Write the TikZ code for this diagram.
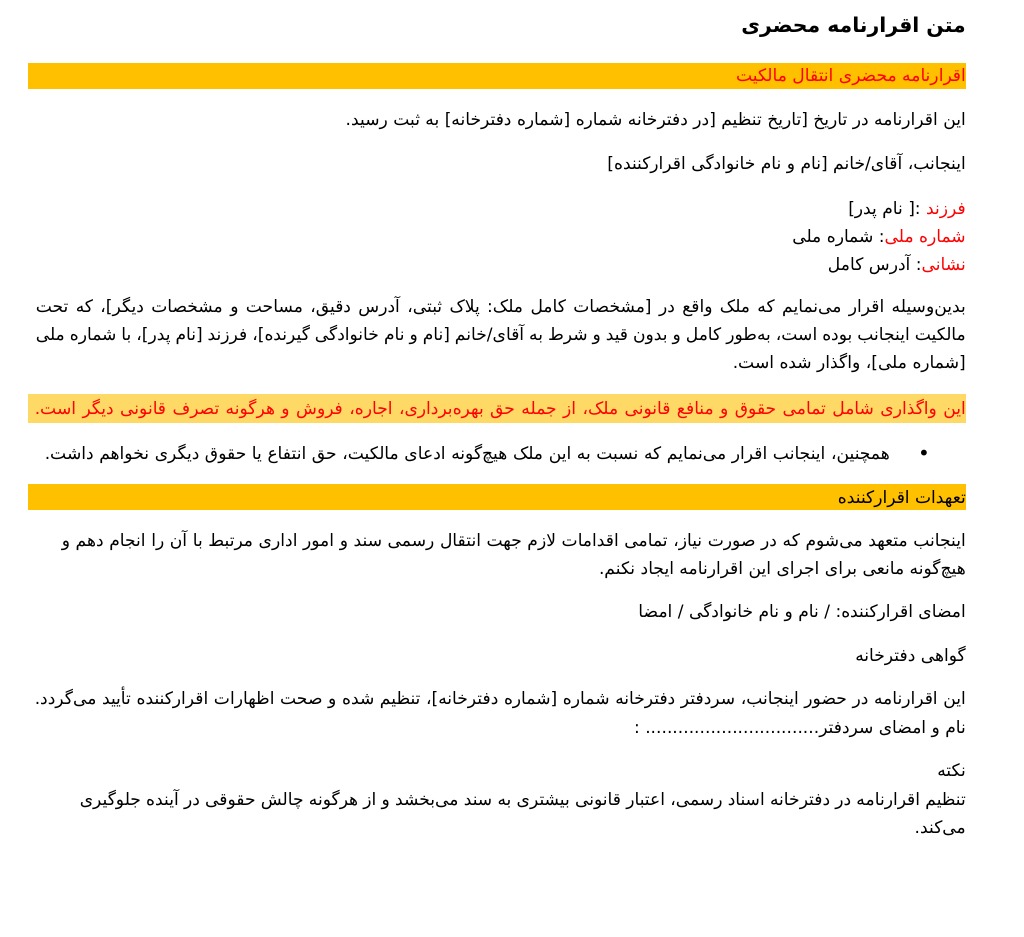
\documentclass[tikz,border=0pt]{standalone}
\usepackage{fontspec}
\TeXXeTstate=1
\frenchspacing
\newfontfamily\fa[Script=Arabic]{DejaVu Sans}
\definecolor{gold}{HTML}{FFC000}
\definecolor{lightgold}{HTML}{FFD966}
\definecolor{redtxt}{HTML}{FF0000}
\newcommand\RL[1]{\beginR #1\endR}
\tikzset{
  txt/.style={anchor=base east, inner sep=0pt, font=\fa\fontsize{17.1}{20}\selectfont\frenchspacing},
  ttl/.style={anchor=base east, inner sep=0pt, font=\fa\bfseries\fontsize{20.4}{24}\selectfont},
  banner/.style={anchor=north west, inner sep=0pt, minimum width=938pt, minimum height=26pt, fill=gold},
  hlbanner/.style={anchor=north west, inner sep=0pt, minimum width=938pt, minimum height=29pt, fill=lightgold},
}
\begin{document}
\begin{tikzpicture}[x=1pt,y=-1pt]
\useasboundingbox (0,0) rectangle (1024,936);
\fill[white] (0,0) rectangle (1024,936);
% title
\node[ttl] (title) at (966,33) {\RL{متن اقرارنامه محضری}};
% banner 1
\node[banner] (b1) at (28,63) {};
\node[txt, text=redtxt] (b1t) at (966,82) {\RL{اقرارنامه محضری انتقال مالکیت}};
\node[txt] (l1) at (966,126) {\RL{این اقرارنامه در تاریخ [تاریخ تنظیم [در دفترخانه شماره [شماره دفترخانه] به ثبت رسید.}};
\node[txt] (l2) at (966,169) {\RL{اینجانب، آقای/خانم [نام و نام خانوادگی اقرارکننده]}};
\node[txt] (l3) at (966,214) {\RL{:[ نام پدر]} \textcolor{redtxt}{\RL{فرزند}}};
\node[txt] (l4) at (966,242) {\RL{: شماره ملی}\textcolor{redtxt}{\RL{شماره ملی}}};
\node[txt] (l5) at (966,270) {\RL{: آدرس کامل}\textcolor{redtxt}{\RL{نشانی}}};
% paragraph 1
\node[txt] (p1a) at (966,312) {\makebox[930pt][s]{\RL{بدین^^^^200cوسیله اقرار می^^^^200cنمایم که ملک واقع در [مشخصات کامل ملک: پلاک ثبتی، آدرس دقیق، مساحت و مشخصات دیگر]، که تحت}}};
\node[txt] (p1b) at (966,340) {\makebox[930pt][s]{\RL{مالکیت اینجانب بوده است، به^^^^200cطور کامل و بدون قید و شرط به آقای/خانم [نام و نام خانوادگی گیرنده]، فرزند [نام پدر]، با شماره ملی}}};
\node[txt] (p1c) at (966,368) {\RL{[شماره ملی]، واگذار شده است.}};
% highlight
\node[hlbanner] (b2) at (28,394) {};
\node[txt, text=redtxt] (b2t) at (966,414) {\makebox[931pt][s]{\RL{این واگذاری شامل تمامی حقوق و منافع قانونی ملک، از جمله حق بهره^^^^200cبرداری، اجاره، فروش و هرگونه تصرف قانونی دیگر است.}}};
% bullet
\node[anchor=base, inner sep=0pt, font=\fa\fontsize{20}{22}\selectfont] (bul) at (924,460) {•};
\node[txt] (bult) at (890,459) {\makebox[845pt][s]{\RL{همچنین، اینجانب اقرار می^^^^200cنمایم که نسبت به این ملک هیچ^^^^200cگونه ادعای مالکیت، حق انتفاع یا حقوق دیگری نخواهم داشت.}}};
% banner 3
\node[banner] (b3) at (28,484) {};
\node[txt] (b3t) at (966,503) {\RL{تعهدات اقرارکننده}};
\node[txt] (p2a) at (966,546) {\makebox[904pt][s]{\RL{اینجانب متعهد می^^^^200cشوم که در صورت نیاز، تمامی اقدامات لازم جهت انتقال رسمی سند و امور اداری مرتبط با آن را انجام دهم و}}};
\node[txt] (p2b) at (966,574) {\RL{هیچ^^^^200cگونه مانعی برای اجرای این اقرارنامه ایجاد نکنم.}};
\node[txt] (sig) at (966,617) {\RL{امضای اقرارکننده: / نام و نام خانوادگی / امضا}};
\node[txt] (g) at (966,661) {\RL{گواهی دفترخانه}};
\node[txt] (g1) at (966,704) {\makebox[931pt][s]{\RL{این اقرارنامه در حضور اینجانب، سردفتر دفترخانه شماره [شماره دفترخانه]، تنظیم شده و صحت اظهارات اقرارکننده تأیید می^^^^200cگردد.}}};
\node[txt] (g2) at (966,733) {\RL{نام و امضای سردفتر................................ :}};
\node[txt] (n) at (966,776) {\RL{نکته}};
\node[txt] (n1) at (966,805) {\makebox[886pt][s]{\RL{تنظیم اقرارنامه در دفترخانه اسناد رسمی، اعتبار قانونی بیشتری به سند می^^^^200cبخشد و از هرگونه چالش حقوقی در آینده جلوگیری}}};
\node[txt] (n2) at (966,833) {\RL{می^^^^200cکند.}};
\end{tikzpicture}
\end{document}
